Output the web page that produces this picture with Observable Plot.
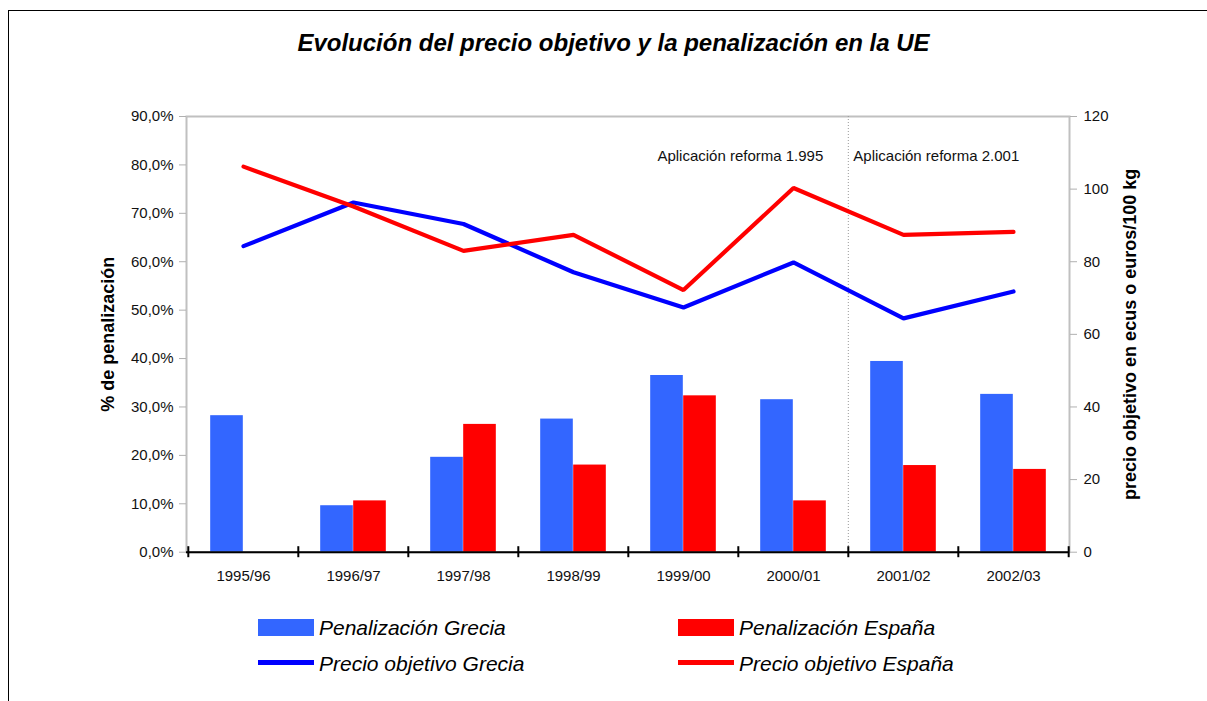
<!DOCTYPE html>
<html>
<head>
<meta charset="utf-8">
<script src="https://cdn.jsdelivr.net/npm/d3@7"></script>
<script src="https://cdn.jsdelivr.net/npm/@observablehq/plot@0.6"></script>
<style>
  body { margin: 0; background: #fff; }
  #wrap { position: relative; width: 1207px; height: 701px; overflow: hidden; font-family: "Liberation Sans", Arial, sans-serif; color: #000; }
  #border { position: absolute; left: 8px; top: 10px; width: 1300px; height: 800px; border: 1px solid #000; box-sizing: border-box; }
  #chart { position: absolute; left: 0; top: 0; }
  #title { position: absolute; left: 613.5px; top: 30.5px; transform: translateX(-50%); white-space: nowrap; font-size: 24px; font-weight: bold; font-style: italic; line-height: 1; }
  .leg { position: absolute; font-size: 21px; font-style: italic; line-height: 1; white-space: nowrap; }
  .sw { position: absolute; }
</style>
</head>
<body>
<div id="wrap">
  <div id="border"></div>
  <div id="chart"></div>
  <div id="title"></div>
  <div id="legend"></div>
</div>
<script>
// ---- data ----
const titleText = "Evolución del precio objetivo y la penalización en la UE";
const categories = ["1995/96", "1996/97", "1997/98", "1998/99", "1999/00", "2000/01", "2001/02", "2002/03"];
const penalGrecia = [0.282, 0.096, 0.196, 0.275, 0.365, 0.315, 0.394, 0.326];
const penalEspana = [null, 0.106, 0.264, 0.180, 0.323, 0.106, 0.179, 0.171];
const precioGrecia = [84.3, 96.3, 90.4, 77.1, 67.4, 79.8, 64.4, 71.8];
const precioEspana = [106.2, 95.2, 83.0, 87.4, 72.2, 100.3, 87.4, 88.2];
const leftTicks = [0, 0.1, 0.2, 0.3, 0.4, 0.5, 0.6, 0.7, 0.8, 0.9];
const rightTicks = [0, 20, 40, 60, 80, 100, 120];
const leftTitle = "% de penalización";
const rightTitle = "precio objetivo en ecus o euros/100 kg";
const reformCategory = "2001/02";
const annotations = ["Aplicación reforma 1.995", "Aplicación reforma 2.001"];
const seriesNames = ["Penalización Grecia", "Penalización España", "Precio objetivo Grecia", "Precio objetivo España"];
const seriesColors = ["#3366ff", "#ff0000", "#0000ff", "#ff0000"];

// ---- layout ----
const penalMax = 0.9, priceMax = 120;
const toLeft = v => v / priceMax * penalMax;
const fromLeft = v => v / penalMax * priceMax;
const W = 1207, H = 600;
const mL = 186, mR = W - 1069, mT = 116, mB = H - 551.7;
const bw = (W - mL - mR) / categories.length;
const barW = 33;

const rows = categories.map((c, i) => ({cat: c, pg: penalGrecia[i], pe: penalEspana[i], prg: precioGrecia[i], pre: precioEspana[i]}));
const fmtPct = d => (d * 100).toFixed(1).replace(".", ",") + "%";

const chart = Plot.plot({
  width: W, height: H,
  marginLeft: mL, marginRight: mR, marginTop: mT, marginBottom: mB,
  style: {fontFamily: "'Liberation Sans', Arial, sans-serif", fontSize: "15px", color: "#000", background: "transparent"},
  x: {type: "band", domain: categories, padding: 0, label: null},
  y: {domain: [0, penalMax], label: null},
  marks: [
    Plot.frame({stroke: "#c0c0c0", strokeWidth: 2}),
    Plot.ruleX([reformCategory], {x: d => d, dx: -bw / 2, stroke: "#9a9a9a", strokeWidth: 1, strokeDasharray: "1,2"}),
    Plot.barY(rows, {x: "cat", y: "pg", fill: seriesColors[0], insetLeft: bw / 2 - barW, insetRight: bw / 2}),
    Plot.barY(rows.filter(d => d.pe != null), {x: "cat", y: "pe", fill: seriesColors[1], insetLeft: bw / 2, insetRight: bw / 2 - barW}),
    Plot.line(rows, {x: "cat", y: d => toLeft(d.prg), stroke: seriesColors[2], strokeWidth: 4.2, strokeLinejoin: "miter"}),
    Plot.line(rows, {x: "cat", y: d => toLeft(d.pre), stroke: seriesColors[3], strokeWidth: 4.2, strokeLinejoin: "miter"}),
    Plot.axisY({anchor: "left", ticks: leftTicks, tickFormat: fmtPct, tickSize: 7, tickPadding: 6, stroke: "#b0b0b0", fill: "#111", fontSize: 15, label: null}),
    Plot.axisY({anchor: "right", ticks: rightTicks.map(toLeft), tickFormat: d => String(Math.round(fromLeft(d))), tickSize: 7, tickPadding: 7, stroke: "#b0b0b0", fill: "#111", fontSize: 15, label: null}),
    Plot.axisX({anchor: "bottom", tickSize: 0, tickPadding: 18, fill: "#111", fontSize: 15, label: null}),
    Plot.ruleY([0], {stroke: "#000", strokeWidth: 2}),
    Plot.ruleX(categories, {x: d => d, y1: 0, y2: 0, dx: -bw / 2, insetTop: -5.5, insetBottom: -5.5, stroke: "#000", strokeWidth: 2}),
    Plot.ruleX([categories[categories.length - 1]], {x: d => d, y1: 0, y2: 0, dx: bw / 2, insetTop: -5.5, insetBottom: -5.5, stroke: "#000", strokeWidth: 2}),
    Plot.text([annotations[0]], {x: () => reformCategory, text: d => d, frameAnchor: "top", dy: 34, dx: -bw / 2 - 25, textAnchor: "end", fontSize: 15, fill: "#111"}),
    Plot.text([annotations[1]], {x: () => reformCategory, text: d => d, frameAnchor: "top", dy: 34, dx: -bw / 2 + 5, textAnchor: "start", fontSize: 15, fill: "#111"}),
    Plot.text([leftTitle], {text: d => d, frameAnchor: "left", dx: -78, rotate: -90, textAnchor: "middle", fontWeight: "bold", fontSize: 18, fill: "#000"}),
    Plot.text([rightTitle], {text: d => d, frameAnchor: "right", dx: 61, rotate: -90, textAnchor: "middle", fontWeight: "bold", fontSize: 18, fill: "#000"})
  ]
});
document.getElementById("chart").appendChild(chart);
document.getElementById("title").textContent = titleText;

// ---- legend (HTML, below the plot area) ----
const legend = document.getElementById("legend");
const legCols = [258, 678];
const legendItems = [
  {name: seriesNames[0], color: seriesColors[0], kind: "bar", col: 0, row: 0},
  {name: seriesNames[1], color: seriesColors[1], kind: "bar", col: 1, row: 0},
  {name: seriesNames[2], color: seriesColors[2], kind: "line", col: 0, row: 1},
  {name: seriesNames[3], color: seriesColors[3], kind: "line", col: 1, row: 1}
];
for (const it of legendItems) {
  const x = legCols[it.col];
  const sw = document.createElement("div");
  sw.className = "sw";
  sw.style.left = x + "px";
  sw.style.width = "56px";
  sw.style.background = it.color;
  if (it.kind === "bar") { sw.style.top = "619px"; sw.style.height = "17px"; }
  else { sw.style.top = "660px"; sw.style.height = "5px"; }
  legend.appendChild(sw);
  const t = document.createElement("div");
  t.className = "leg";
  t.style.left = (x + 61) + "px";
  t.style.top = (it.row === 0 ? 616.5 : 653) + "px";
  t.textContent = it.name;
  legend.appendChild(t);
}
</script>
</body>
</html>
